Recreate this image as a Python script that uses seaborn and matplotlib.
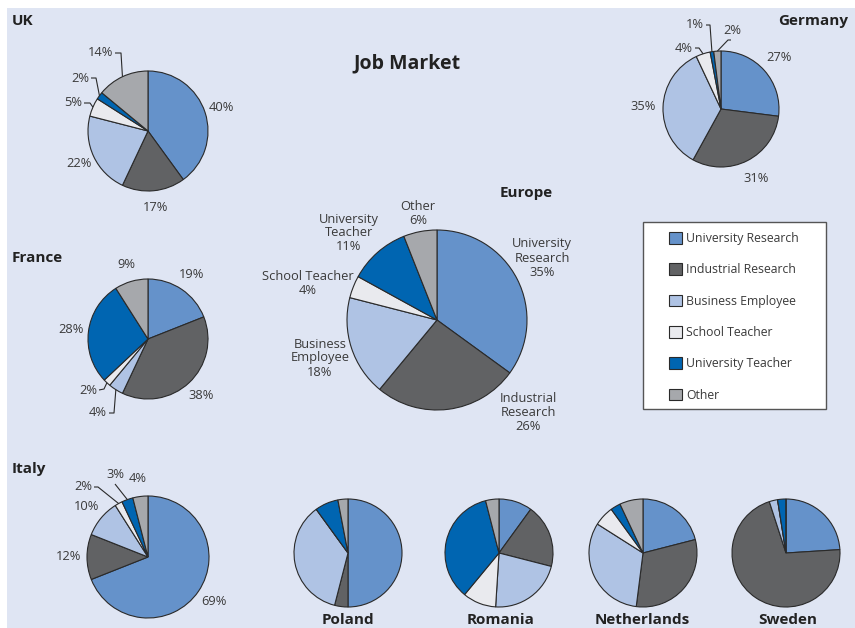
import numpy as np
import matplotlib
matplotlib.use("Agg")
import matplotlib.pyplot as plt
from matplotlib.patches import Rectangle, Patch
import seaborn as sns

# ---------------- data ----------------
categories = ["University Research", "Industrial Research", "Business Employee",
              "School Teacher", "University Teacher", "Other"]
europe_names = ["University\nResearch", "Industrial\nResearch", "Business\nEmployee",
                "School Teacher", "University\nTeacher", "Other"]
uk = [40, 17, 22, 5, 2, 14]
germany = [27, 31, 35, 4, 1, 2]
france = [19, 38, 4, 2, 28, 9]
italy = [69, 12, 10, 2, 3, 4]
europe = [35, 26, 18, 4, 11, 6]
poland = [50, 4, 36, 0, 7, 3]
romania = [10, 19, 22, 10, 35, 4]
netherlands = [21, 31, 32, 6, 3, 7]
sweden = [24, 71, 2.5, 0, 2.5, 0]

# ---------------- style ----------------
sns.set_theme(style="white")
plt.rcParams["font.family"] = ["Open Sans", "DejaVu Sans"]
palette = sns.color_palette(["#6592CA", "#616264", "#AFC3E4", "#E9EAEE", "#0065B1", "#A6A8AC"])
EDGE = "#2a2a2a"
TXT = "#3a3a3a"
BG = "#DFE5F3"
W, H = 855, 628

fig = plt.figure(figsize=(W / 100, H / 100), dpi=100, facecolor="white")
ax = fig.add_axes([0, 0, 1, 1])
ax.set_axis_off()

ax.add_patch(Rectangle((7, 0), W - 7, H - 8, facecolor=BG, edgecolor="none", zorder=0))


def px(x, y):
    return x, H - y


def draw_pie(values, cx, cy, r, dist=None, overrides=None, names=None, name_pos=None,
             fs=9.3):
    ax.pie(values, colors=palette, startangle=90, counterclock=False,
           center=px(cx, cy), radius=r, frame=False,
           wedgeprops=dict(edgecolor=EDGE, linewidth=0.8))
    vals = np.asarray(values, dtype=float)
    cum = np.cumsum(vals)
    mids = np.deg2rad((cum - vals / 2) / vals.sum() * 360)
    overrides = overrides or {}
    for i, v in enumerate(vals):
        if v == 0:
            continue
        lab = f"{v:g}%"
        if names is not None:
            ox, oy = name_pos[i]
            ax.text(*px(cx + ox, cy + oy), f"{names[i]}\n{lab}", ha="center", va="center",
                    fontsize=fs, color=TXT, linespacing=1.1)
            continue
        if dist is None:
            continue
        if i in overrides:
            o = overrides[i]
            tx, ty = o["text"]
            ax.text(*px(cx + tx, cy + ty), lab, ha=o.get("ha", "right"), va="center",
                    fontsize=fs, color=TXT)
            ex = cx + r * np.sin(mids[i])
            ey = cy - r * np.cos(mids[i])
            pts = [(cx + a, cy + b) for a, b in o["line"]] + [(ex, ey)]
            xs = [p[0] for p in pts]
            ys = [H - p[1] for p in pts]
            ax.plot(xs, ys, color=EDGE, lw=0.8, solid_capstyle="butt")
        else:
            tx = cx + dist * r * np.sin(mids[i])
            ty = cy - dist * r * np.cos(mids[i])
            ax.text(*px(tx, ty), lab, ha="center", va="center", fontsize=fs, color=TXT)


# UK
draw_pie(uk, 148, 131, 60, dist=1.28, overrides={
    3: dict(text=(-66, -29), line=[(-64, -28), (-58, -28)]),
    4: dict(text=(-59, -53), line=[(-57, -53), (-52, -53)]),
    5: dict(text=(-35, -79), line=[(-33, -78), (-27, -78)]),
})
# Germany
draw_pie(germany, 721, 109, 58, dist=1.34, overrides={
    3: dict(text=(-28, -61), line=[(-26, -61), (-22, -61)]),
    4: dict(text=(-17, -84), line=[(-15, -84), (-11, -84)]),
    5: dict(text=(2, -78), ha="left", line=[(10, -69), (7, -69)]),
})
# France
draw_pie(france, 148, 339, 60, dist=1.3, overrides={
    2: dict(text=(-41, 74), line=[(-39, 74), (-34, 74)]),
    3: dict(text=(-51, 52), line=[(-49, 51), (-44, 50)]),
})
# Italy
draw_pie(italy, 148, 557, 61, dist=1.3, overrides={
    3: dict(text=(-56, -70), line=[(-54, -70), (-50, -70)]),
    4: dict(text=(-33, -82), ha="center", line=[(-33, -73)]),
})
# Europe
draw_pie(europe, 437, 320, 90, names=europe_names, name_pos=[
    (105, -62), (91, 92), (-117, 38), (-129, -36), (-88, -87), (-19, -107)])
# small pies without labels
draw_pie(poland, 348, 553, 54)
draw_pie(romania, 499, 553, 54)
draw_pie(netherlands, 643, 553, 54)
draw_pie(sweden, 786, 553, 54)

# ---------------- titles ----------------
TT = "#222222"
tkw = dict(fontsize=11, fontweight="bold", color=TT, va="center")
ax.text(*px(12, 21), "UK", ha="left", **tkw)
ax.text(*px(848, 21), "Germany", ha="right", **tkw)
ax.text(*px(12, 258), "France", ha="left", **tkw)
ax.text(*px(12, 469), "Italy", ha="left", **tkw)
ax.text(*px(526, 193), "Europe", ha="center", **tkw)
ax.text(*px(348, 620), "Poland", ha="center", **tkw)
ax.text(*px(501, 620), "Romania", ha="center", **tkw)
ax.text(*px(642, 620), "Netherlands", ha="center", **tkw)
ax.text(*px(788, 620), "Sweden", ha="center", **tkw)
ax.text(*px(407, 63), "Job Market", ha="center", va="center", fontsize=14,
        fontweight="bold", color=TT)

# ---------------- legend ----------------
ax.add_patch(Rectangle(px(643, 409), 183, 187, facecolor="white", edgecolor="#555555",
                       lw=1.0, zorder=1))
handles = [Patch(facecolor=c, edgecolor=EDGE, linewidth=0.8, label=l)
           for c, l in zip(palette, categories)]
leg = ax.legend(handles=handles, loc="upper left", bbox_to_anchor=(669 / W, 1 - 232 / H),
                bbox_transform=fig.transFigure, frameon=False, fontsize=8.8,
                handlelength=1.08, handleheight=1.08, handletextpad=0.35,
                labelspacing=1.5, borderpad=0, borderaxespad=0)
for t in leg.get_texts():
    t.set_color(TXT)
leg.set_zorder(5)

ax.set_xlim(0, W)
ax.set_ylim(0, H)
ax.set_aspect("auto")
fig.savefig("out.png", dpi=100, facecolor="white")
